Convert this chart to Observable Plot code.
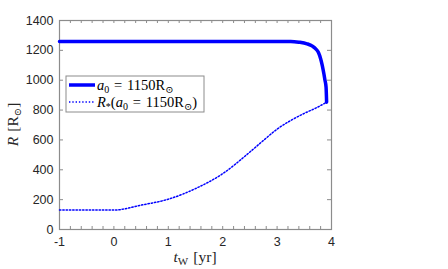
<!DOCTYPE html>
<html><head><meta charset="utf-8">
<script src="https://cdn.jsdelivr.net/npm/d3@7"></script>
<script src="https://cdn.jsdelivr.net/npm/@observablehq/plot@0.6"></script>
<style>body{margin:0;background:#fff}</style>
</head><body><div id="chart"></div>
<script>
const tSolid = [-1, 0, 1, 2, 3, 3.25, 3.4, 3.55, 3.65, 3.71, 3.76, 3.80, 3.83, 3.86, 3.88, 3.90, 3.91];
const rSolid = [1260, 1260, 1260, 1260, 1260, 1260, 1255, 1244, 1228, 1210, 1185, 1144, 1100, 1043, 1000, 954, 853];
const tDot = [-1, 0, 0.5, 1, 1.5, 2, 2.5, 2.75, 3, 3.25, 3.5, 3.75, 3.91];
const rDot = [130, 130, 163, 203, 274, 374, 519, 597, 672, 730, 778, 820, 853];
const xTicks = [-1, 0, 1, 2, 3, 4];
const xMinor = d3.range(-1, 4.001, 0.2).map(v => +v.toFixed(1));
const yTicks = [0, 200, 400, 600, 800, 1000, 1200, 1400];

const solid = tSolid.map((t, i) => ({t, r: rSolid[i]}));
const dot = tDot.map((t, i) => ({t, r: rDot[i]}));

const W = 448, H = 269, mL = 59, mR = 117, mT = 20, mB = 40;
const pw = W - mL - mR, ph = H - mT - mB;
const axisCol = "#8c8c8c";
const font = "'Liberation Sans', Arial, sans-serif";

const plot = Plot.plot({
  width: W, height: H,
  marginLeft: mL, marginRight: mR, marginTop: mT, marginBottom: mB,
  style: {fontFamily: font, fontSize: "12px", color: "#262626", background: "#fff"},
  x: {domain: [-1, 4]},
  y: {domain: [0, 1400]},
  marks: [
    Plot.axisX(xTicks, {tickSize: 0, tickPadding: 8, tickFormat: d => String(d), label: null, fontSize: 12.5, fill: "#262626"}),
    Plot.axisY(yTicks, {tickSize: 0, tickPadding: 6, tickFormat: d => String(d), label: null, fontSize: 12.5, fill: "#262626"}),
    Plot.tickX(xMinor, {x: d => d, insetTop: ph - 3, stroke: axisCol}),
    Plot.tickX(xMinor, {x: d => d, insetBottom: ph - 3, stroke: axisCol}),
    Plot.tickY(yTicks, {y: d => d, insetRight: pw - 4, stroke: axisCol}),
    Plot.tickY(yTicks, {y: d => d, insetLeft: pw - 4, stroke: axisCol}),
    Plot.frame({stroke: axisCol, strokeWidth: 1.2}),
    Plot.line(solid, {x: "t", y: "r", stroke: "#0000ff", strokeWidth: 3.5, curve: "monotone-x"}),
    Plot.line(dot, {x: "t", y: "r", stroke: "#0000ff", strokeWidth: 1.5, strokeDasharray: "1.4,1.9", curve: "monotone-x"})
  ]
});
document.getElementById("chart").appendChild(plot);

const svg = d3.select(plot);
const serif = "'Liberation Serif', 'DejaVu Serif', serif";

// axis labels
const xl = svg.append("text").attr("x", mL + pw / 2).attr("y", H - 7)
  .attr("text-anchor", "middle").attr("font-family", serif).attr("font-size", 15.5).attr("fill", "#262626");
xl.append("tspan").attr("font-style", "italic").text("t");
xl.append("tspan").attr("font-size", 11).attr("dy", 3).text("W");
xl.append("tspan").attr("dy", -3).text("\u2004[yr]");

const yl = svg.append("text").attr("transform", `translate(18,${mT + ph / 2}) rotate(-90)`)
  .attr("text-anchor", "middle").attr("font-family", serif).attr("font-size", 15.5).attr("fill", "#262626");
yl.append("tspan").attr("font-style", "italic").text("R");
yl.append("tspan").text("\u2004[R");
yl.append("tspan").attr("font-size", 10).attr("dy", 3).text("⊙");
yl.append("tspan").attr("dy", -3).text("]");

// legend
const lx = mL + 7, ly = mT + 56, lw = 138, lh = 36;
svg.append("rect").attr("x", lx).attr("y", ly).attr("width", lw).attr("height", lh)
  .attr("fill", "#fff").attr("stroke", axisCol).attr("stroke-width", 1);
const eq = "\u2004=\u20041150R";
const rows = [
  {w: 3.5, dash: null, parts: [["a", "italic", 0, 14.5], ["0", null, 3, 10], [eq, null, -3, 14.5], ["⊙", null, 3, 10]]},
  {w: 1.5, dash: "1.4,1.9", parts: [["R", "italic", 0, 14.5], ["*", null, 3, 10], ["(", null, -3, 14.5], ["a", "italic", 0, 14.5], ["0", null, 3, 10], [eq, null, -3, 14.5], ["⊙", null, 3, 10], [")", null, -3, 14.5]]}
];
rows.forEach((r, i) => {
  const cy = ly + 9 + i * 17;
  svg.append("line").attr("x1", lx + 3).attr("x2", lx + 29).attr("y1", cy).attr("y2", cy)
    .attr("stroke", "#0000ff").attr("stroke-width", r.w).attr("stroke-dasharray", r.dash);
  const t = svg.append("text").attr("x", lx + 31).attr("y", cy + 4.5).attr("text-anchor", "start")
    .attr("font-family", serif).attr("font-size", 14.5).attr("fill", "#000");
  r.parts.forEach(([s, st, dy, fs]) => {
    const sp = t.append("tspan").attr("dy", dy).attr("font-size", fs).text(s);
    if (st) sp.attr("font-style", st);
  });
});
</script>
</body></html>
